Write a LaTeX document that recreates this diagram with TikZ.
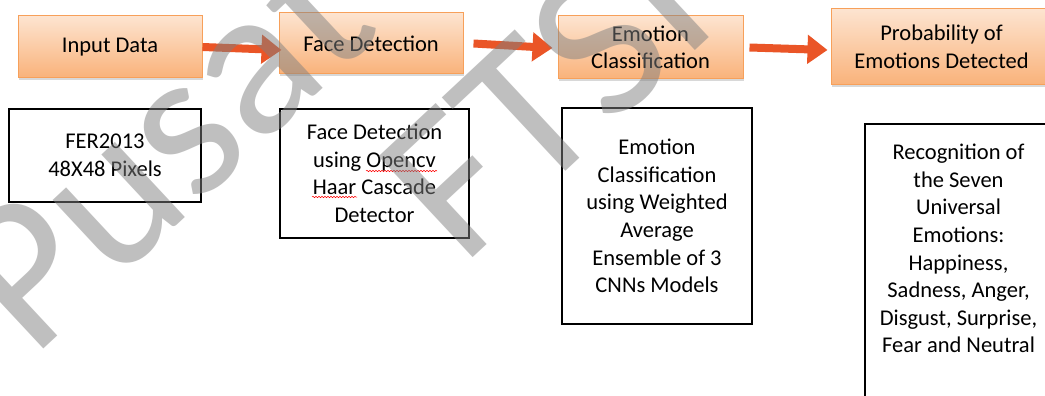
\documentclass[tikz,border=0pt]{standalone}
\usepackage{fontspec}
\setmainfont{Carlito}
\usetikzlibrary{arrows.meta,shadows,decorations.pathmorphing}
\definecolor{otop}{RGB}{253,228,208}
\definecolor{obot}{RGB}{249,178,122}
\definecolor{oborder}{RGB}{247,160,90}
\definecolor{arrowc}{RGB}{234,85,39}
\definecolor{wmgray}{RGB}{128,128,128}
\newcommand{\fsz}{\fontsize{22.5}{27.6}\selectfont}
\begin{document}
\begin{tikzpicture}[x=1pt,y=-1pt,
  every node/.style={font=\fsz, align=center, inner sep=0pt, text=black},
  obox/.style={draw=oborder, line width=1pt, top color=otop, bottom color=obot,
    drop shadow={shadow xshift=1pt, shadow yshift=-2pt, fill=black!30, opacity=.5}},
  lbox/.style={draw=black, line width=2.2pt, fill=white},
  flow/.style={draw=arrowc, line width=8pt, -{Triangle[length=20pt,width=28pt]}},
  squig/.style={draw=red, line width=0.5pt, decorate, decoration={snake, amplitude=0.7pt, segment length=3pt}},
  wm/.style={font=\fontsize{215}{230}\selectfont, text=wmgray, text opacity=0.5, inner sep=0pt}
]
\useasboundingbox (0,0) rectangle (1045,396);
\clip (0,0) rectangle (1045,396);
\fill[white] (0,0) rectangle (1045,396);

% top row
\node[obox, minimum width=184pt, minimum height=62pt] (in) at (110,47) {Input Data};
\node[obox, minimum width=184pt, minimum height=61pt] (fd) at (371,43.5) {Face Detection};
\node[obox, minimum width=185pt, minimum height=63pt] (ec) at (650.5,47.5) {Emotion\\Classification};
\node[obox, minimum width=221pt, minimum height=76pt] (pr) at (941.5,47) {Probability of\\Emotions Detected};

% arrows
\draw[flow] (in.east) -- ([xshift=3pt,yshift=-6.5pt]fd.west);
\draw[flow] ([xshift=10pt]fd.east) -- ([xshift=-5pt,yshift=-0.5pt]ec.west);
\draw[flow] ([xshift=6pt]ec.east) -- ([xshift=-3pt,yshift=-3pt]pr.west);

% bottom row
\node[lbox, minimum width=192pt, minimum height=93pt] (fer) at (105,155.5) {FER2013\\48X48 Pixels};
\node[lbox, minimum width=189pt, minimum height=129pt] (fdd) at (374.5,173.5) {Face Detection\\using Opencv\\Haar Cascade\\Detector};
\node[lbox, minimum width=190pt, minimum height=216pt] (ecd) at (657,216) {Emotion\\Classification\\using Weighted\\Average\\Ensemble of 3\\CNNs Models};
\node[lbox, minimum width=187pt, minimum height=300pt, anchor=north] (rec) at (958.5,123) {};
\node[anchor=north] (rect) at (958.5,144) {Recognition of\\the Seven\\Universal\\Emotions:\\Happiness,\\Sadness, Anger,\\Disgust, Surprise,\\Fear and Neutral};

% spelling squiggles
\coordinate (sq1a) at (366,171);
\coordinate (sq1b) at (437,171);
\coordinate (sq2a) at (312,197);
\coordinate (sq2b) at (357,197);
\draw[squig] (sq1a) -- (sq1b);
\draw[squig] (sq2a) -- (sq2b);

% watermark
\node[wm, rotate=43, anchor=base west] (wm1) at (32,360) {Pusat};
\node[wm, rotate=43, anchor=base west] (wm2) at (462,268) {FTSI};
\end{tikzpicture}
\end{document}
